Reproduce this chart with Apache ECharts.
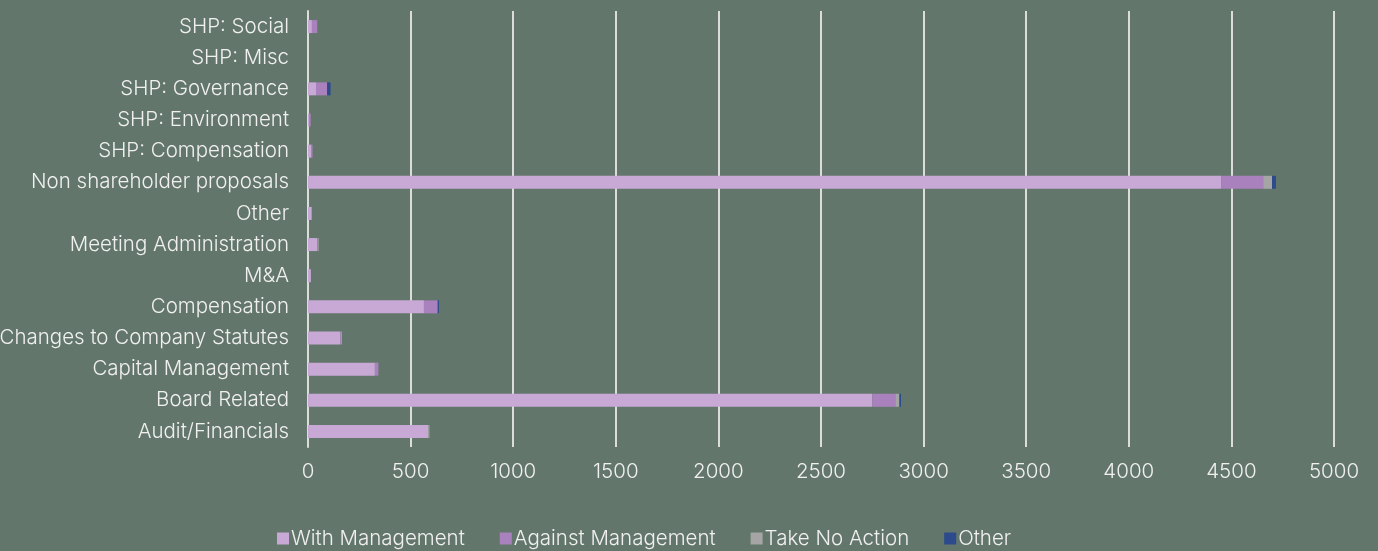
<!DOCTYPE html>
<html>
<head>
<meta charset="utf-8">
<script src="https://cdn.jsdelivr.net/npm/echarts@6/dist/echarts.min.js"></script>
<style>
html,body{margin:0;padding:0;background:#63766b;}
#c{width:1378px;height:551px;}
</style>
</head>
<body>
<div id="c"></div>
<script>
const categories = ["Audit/Financials","Board Related","Capital Management","Changes to Company Statutes","Compensation","M&A","Meeting Administration","Other","Non shareholder proposals","SHP: Compensation","SHP: Environment","SHP: Governance","SHP: Misc","SHP: Social"];
const withManagement    = [586, 2750, 326, 156, 565, 14, 45, 18, 4450, 17, 5, 39, 0, 19];
const againstManagement = [0, 112, 17, 4, 65, 0, 3, 0, 205, 5, 8, 54, 0, 26];
const takeNoAction      = [6, 20, 0, 5, 2, 0, 4, 0, 43, 0, 0, 0, 0, 0];
const otherVotes        = [0, 8, 0, 0, 6, 0, 0, 0, 19, 0, 0, 17, 0, 0];
const xTicks = [0,500,1000,1500,2000,2500,3000,3500,4000,4500,5000];

const font = "Inter, 'Noto Sans', sans-serif";
const txt = "#f0f0f0";
const fs = 20.5;
const chart = echarts.init(document.getElementById('c'));
function s(name, data, color){
  return {name, type:'bar', stack:'t', data, barWidth:13, itemStyle:{color}};
}
chart.setOption({
  backgroundColor:'#63766b',
  animation:false,
  grid:{left:308, right:44, top:11, bottom:104, containLabel:false, outerBoundsMode:'none'},
  xAxis:{type:'value', min:xTicks[0], max:xTicks[xTicks.length-1], interval:500,
    axisLine:{show:false}, axisTick:{show:false},
    splitLine:{lineStyle:{color:'#dcdcdc', width:2}},
    axisLabel:{color:txt, fontSize:fs, fontWeight:300, fontFamily:font, margin:14,
      formatter:v=>String(v)}},
  yAxis:{type:'category', data:categories,
    axisLine:{lineStyle:{color:'#dcdcdc', width:2}}, axisTick:{show:false},
    axisLabel:{color:txt, fontSize:fs, fontWeight:300, fontFamily:font, margin:19}},
  legend:{top:523, left:272, itemWidth:12, itemHeight:12, itemGap:35, icon:'rect',
    textStyle:{color:txt, fontSize:fs, fontWeight:300, fontFamily:font, padding:[0,0,0,-3]},
    data:['With Management','Against Management','Take No Action','Other']},
  series:[
    s('With Management', withManagement, '#c8a9d5'),
    s('Against Management', againstManagement, '#a982bd'),
    s('Take No Action', takeNoAction, '#a5a5a5'),
    s('Other', otherVotes, '#2c4a8c')
  ]
});
</script>
</body>
</html>
